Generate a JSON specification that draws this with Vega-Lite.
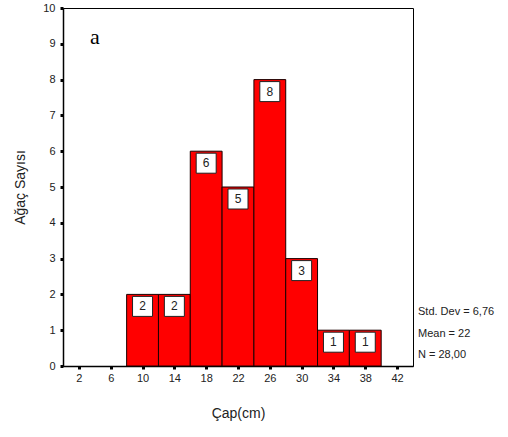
{
  "$schema": "https://vega.github.io/schema/vega-lite/v6.json",
  "width": 350,
  "height": 358,
  "autosize": "none",
  "padding": {"left": 63, "top": 8, "right": 95, "bottom": 71},
  "background": "white",
  "config": {
    "font": "Liberation Sans",
    "view": {"stroke": "black", "strokeWidth": 1},
    "axis": {"grid": false, "domainColor": "black", "tickColor": "black", "labelColor": "#222", "titleColor": "#222", "labelFont": "Liberation Sans", "titleFont": "Liberation Sans", "titleFontWeight": "normal", "labelFontSize": 11, "titleFontSize": 14, "labelOverlap": false, "labelFlush": false, "tickSize": 3, "tickWidth": 3, "domainWidth": 1.5}
  },
  "datasets": {
    "bins": [
      {"start": 8, "end": 12, "mid": 10, "count": 2},
      {"start": 12, "end": 16, "mid": 14, "count": 2},
      {"start": 16, "end": 20, "mid": 18, "count": 6},
      {"start": 20, "end": 24, "mid": 22, "count": 5},
      {"start": 24, "end": 28, "mid": 26, "count": 8},
      {"start": 28, "end": 32, "mid": 30, "count": 3},
      {"start": 32, "end": 36, "mid": 34, "count": 1},
      {"start": 36, "end": 40, "mid": 38, "count": 1}
    ],
    "stats": [
      {"x": 44, "y": 1.51, "label": "Std. Dev = 6,76"},
      {"x": 44, "y": 0.9, "label": "Mean = 22"},
      {"x": 44, "y": 0.31, "label": "N = 28,00"}
    ],
    "panel": [{"x": 4, "y": 9.2, "label": "a"}]
  },
  "data": {"name": "bins"},
  "layer": [
    {
      "mark": {"type": "bar", "fill": "#ff0000", "stroke": "#1a0000", "strokeWidth": 1},
      "encoding": {
        "x": {"field": "start", "type": "quantitative", "scale": {"domain": [0, 44], "nice": false, "zero": false},
          "axis": {"values": [2, 6, 10, 14, 18, 22, 26, 30, 34, 38, 42], "title": "Çap(cm)", "labelPadding": 3, "titlePadding": 23, "labelOverlap": false}},
        "x2": {"field": "end"},
        "y": {"field": "count", "type": "quantitative", "scale": {"domain": [0, 10], "nice": false},
          "axis": {"values": [0, 1, 2, 3, 4, 5, 6, 7, 8, 9, 10], "title": "Ağaç Sayısı", "labelPadding": 5, "titlePadding": 15, "labelOverlap": false}},
        "y2": {"datum": 0}
      }
    },
    {
      "mark": {"type": "point", "shape": "square", "size": 400, "filled": true, "fill": "white", "stroke": "#222", "strokeWidth": 1, "opacity": 1, "yOffset": 12},
      "encoding": {
        "x": {"field": "mid", "type": "quantitative",
          "axis": {"values": [2, 6, 10, 14, 18, 22, 26, 30, 34, 38, 42], "title": "Çap(cm)", "labelPadding": 3, "titlePadding": 23, "labelOverlap": false}},
        "y": {"field": "count", "type": "quantitative",
          "axis": {"values": [0, 1, 2, 3, 4, 5, 6, 7, 8, 9, 10], "title": "Ağaç Sayısı", "labelPadding": 5, "titlePadding": 15, "labelOverlap": false}}
      }
    },
    {
      "mark": {"type": "text", "fontSize": 12, "color": "#222", "baseline": "middle", "dy": 12},
      "encoding": {
        "x": {"field": "mid", "type": "quantitative",
          "axis": {"values": [2, 6, 10, 14, 18, 22, 26, 30, 34, 38, 42], "title": "Çap(cm)", "labelPadding": 3, "titlePadding": 23, "labelOverlap": false}},
        "y": {"field": "count", "type": "quantitative",
          "axis": {"values": [0, 1, 2, 3, 4, 5, 6, 7, 8, 9, 10], "title": "Ağaç Sayısı", "labelPadding": 5, "titlePadding": 15, "labelOverlap": false}},
        "text": {"field": "count"}
      }
    },
    {
      "data": {"name": "panel"},
      "mark": {"type": "text", "font": "Liberation Serif", "fontSize": 22, "color": "black", "baseline": "middle", "align": "center"},
      "encoding": {
        "x": {"field": "x", "type": "quantitative",
          "axis": {"values": [2, 6, 10, 14, 18, 22, 26, 30, 34, 38, 42], "title": "Çap(cm)", "labelPadding": 3, "titlePadding": 23, "labelOverlap": false}},
        "y": {"field": "y", "type": "quantitative",
          "axis": {"values": [0, 1, 2, 3, 4, 5, 6, 7, 8, 9, 10], "title": "Ağaç Sayısı", "labelPadding": 5, "titlePadding": 15, "labelOverlap": false}},
        "text": {"field": "label"}
      }
    },
    {
      "data": {"name": "stats"},
      "mark": {"type": "text", "fontSize": 11, "color": "#222", "baseline": "middle", "align": "left", "dx": 5, "clip": false},
      "encoding": {
        "x": {"field": "x", "type": "quantitative",
          "axis": {"values": [2, 6, 10, 14, 18, 22, 26, 30, 34, 38, 42], "title": "Çap(cm)", "labelPadding": 3, "titlePadding": 23, "labelOverlap": false}},
        "y": {"field": "y", "type": "quantitative",
          "axis": {"values": [0, 1, 2, 3, 4, 5, 6, 7, 8, 9, 10], "title": "Ağaç Sayısı", "labelPadding": 5, "titlePadding": 15, "labelOverlap": false}},
        "text": {"field": "label"}
      }
    }
  ]
}
